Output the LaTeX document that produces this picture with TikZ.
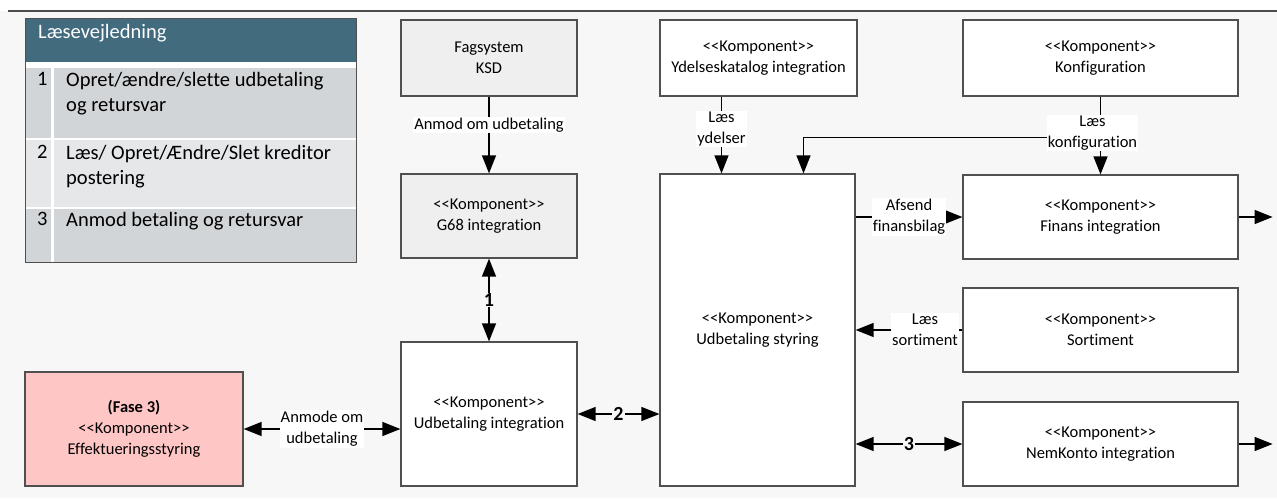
\documentclass[tikz,border=0pt]{standalone}
\usepackage{fontspec}
\setmainfont{Carlito}[Ligatures=CommonOff]
\usetikzlibrary{arrows.meta}

\definecolor{pagegray}{HTML}{F7F7F7}
\definecolor{edgegray}{HTML}{505050}
\definecolor{sysgray}{HTML}{EFEFEF}
\definecolor{fasepink}{HTML}{FFC6C6}
\definecolor{headteal}{HTML}{436B7E}
\definecolor{rowgray}{HTML}{D1D5D8}
\definecolor{rowlight}{HTML}{E5E7E9}

\begin{document}
\begin{tikzpicture}
    [x=1pt, y=-1pt, font=\fontsize{16.5}{21}\selectfont,
     comp/.style = {draw=edgegray, line width=1.2pt, fill=white, align=center, inner sep=2pt},
     boxsize/.style 2 args = {minimum width=#1, minimum height=#2},
     flow/.style = {-{Triangle[length=18pt,width=14pt]}, line width=1.3pt},
     both/.style = {{Triangle[length=18pt,width=14pt]}-{Triangle[length=18pt,width=14pt]}, line width=1.3pt},
     lbl/.style = {fill=white, inner sep=1pt, align=center},
     num/.style = {fill=pagegray, inner sep=1pt, font=\fontsize{20}{22}\selectfont\bfseries},
     legtext/.style = {anchor=north west, align=left, inner sep=0pt, font=\fontsize{20.5}{25}\selectfont}]
    \useasboundingbox (0,0) rectangle (1277,498);
    \fill[pagegray] (0,11) rectangle (1277,498);
    \draw[line width=2pt, black!70] (8,11) -- (1277,11);

    % reading guide
    \fill[white] (25,18) rectangle (356,262);
    \fill[headteal] (25,18) rectangle (356,62);
    \fill[rowgray] (25,68) rectangle (356,138);
    \fill[rowlight] (25,140) rectangle (356,207);
    \fill[rowgray] (25,209) rectangle (356,262);
    \fill[white] (51,68) rectangle (54,262);
    \draw[edgegray, line width=1pt] (25,18) rectangle (356,262);
    \node[legtext, text=white] (guide) at (38,24) {Læsevejledning};
    \node[legtext] (n1) at (37,72) {1};
    \node[legtext] (t1) at (66,72) {Opret/ændre/slette udbetaling\\og retursvar};
    \node[legtext] (n2) at (37,145) {2};
    \node[legtext] (t2) at (66,145) {Læs/ Opret/Ændre/Slet kreditor\\postering};
    \node[legtext] (n3) at (37,212) {3};
    \node[legtext] (t3) at (66,212) {Anmod betaling og retursvar};

    % components
    \node[comp, boxsize={176pt}{76pt}, fill=sysgray] (ksd) at (489,58) {Fagsystem\\KSD};
    \node[comp, boxsize={176pt}{84pt}, fill=sysgray] (g68) at (489,216) {<{}<Komponent>{}>\\G68 integration};
    \node[comp, boxsize={176pt}{144pt}] (uint) at (489,414) {<{}<Komponent>{}>\\Udbetaling integration};
    \node[comp, boxsize={218pt}{114pt}, fill=fasepink] (effekt) at (134,429) {\textbf{(Fase 3)}\\<{}<Komponent>{}>\\Effektueringsstyring};
    \node[comp, boxsize={197pt}{76pt}] (ydel) at (758.5,58) {<{}<Komponent>{}>\\Ydelseskatalog integration};
    \node[comp, boxsize={195pt}{312pt}] (styr) at (757.5,330) {<{}<Komponent>{}>\\Udbetaling styring};
    \node[comp, boxsize={275pt}{76pt}] (konf) at (1100.5,58) {<{}<Komponent>{}>\\Konfiguration};
    \node[comp, boxsize={275pt}{84pt}] (finans) at (1100.5,217) {<{}<Komponent>{}>\\Finans integration};
    \node[comp, boxsize={275pt}{84pt}] (sort) at (1100.5,330) {<{}<Komponent>{}>\\Sortiment};
    \node[comp, boxsize={275pt}{84pt}] (nemk) at (1100.5,444) {<{}<Komponent>{}>\\NemKonto integration};

    \coordinate (ydelout) at ([xshift=-37pt]ydel.south);
    \coordinate (konfsplit) at ([yshift=-41pt]konf.south);
    \coordinate (styrin) at ([xshift=46pt]styr.north);
    \coordinate (finansout) at ([xshift=34pt]finans.east);
    \coordinate (nemkout) at ([xshift=34pt]nemk.east);

    % connectors
    \draw[flow] (ksd) -- (g68) node[lbl, pos=0.37] {Anmod om udbetaling};
    \draw[both] (g68) -- (uint) node[num, midway] {1};
    \draw[both] (effekt.east) -- (effekt.east -| uint.west) node[lbl, midway] {Anmode om\\udbetaling};
    \draw[both] (uint.east) -- (uint.east -| styr.west) node[num, midway] {2};
    \draw[flow] (ydelout) -- (ydelout |- styr.north) node[lbl, pos=0.42] {Læs\\ydelser};
    \draw[flow] (konfsplit) -| (styrin);
    \draw[flow] (konf) -- (finans) node[lbl, pos=0.47, xshift=-8pt] {Læs\\konfiguration};
    \draw[flow] (finans.west -| styr.east) -- (finans.west) node[lbl, midway] {Afsend\\finansbilag};
    \draw[flow] (sort.west) -- (sort.west -| styr.east) node[lbl, pos=0.35] {Læs\\sortiment};
    \draw[both] (nemk.west -| styr.east) -- (nemk.west) node[num, midway] {3};
    \draw[flow] (finans.east) -- (finansout);
    \draw[flow] (nemk.east) -- (nemkout);
\end{tikzpicture}
\end{document}
